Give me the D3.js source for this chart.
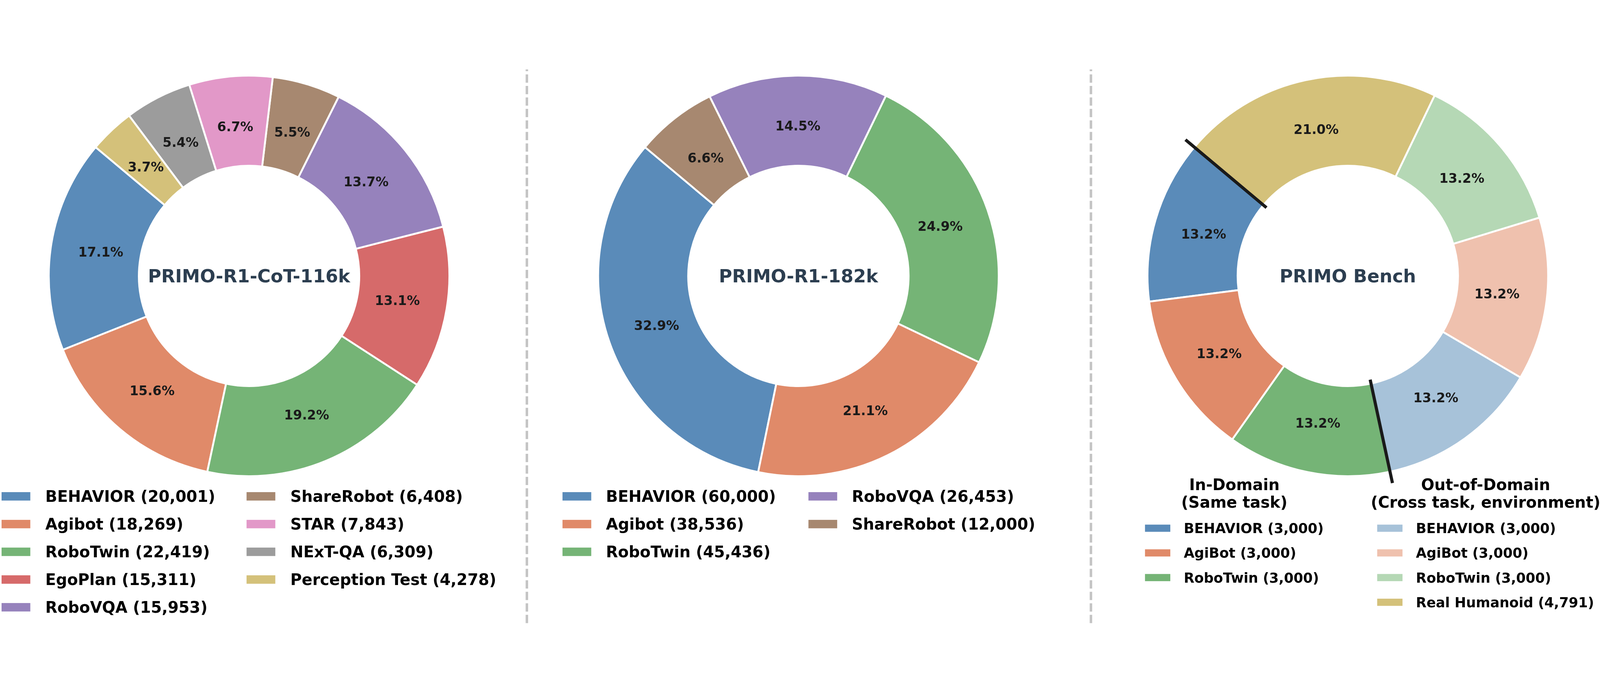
<!DOCTYPE html>
<html><head><meta charset="utf-8">
<script src="https://cdn.jsdelivr.net/npm/d3@7"></script>
<style>
html,body{margin:0;padding:0;background:#fff;overflow:hidden}
svg{display:block;position:fixed;left:0;top:0;width:100vw;height:100vh}
text{font-family:"DejaVu Sans",sans-serif;font-weight:bold}
</style>
</head><body>
<svg id="c" viewBox="0 0 5120 1777" preserveAspectRatio="xMidYMid meet"></svg>
<script>
// ---------- data ----------
const cotTitle = "PRIMO-R1-CoT-116k";
const cotLabels = ["BEHAVIOR","Agibot","RoboTwin","EgoPlan","RoboVQA","ShareRobot","STAR","NExT-QA","Perception Test"];
const cotValues = [20001,18269,22419,15311,15953,6408,7843,6309,4278];
const cotColors = ["#5A8BB9","#E08A69","#75B476","#D66A6A","#9682BC","#A78870","#E298C8","#9C9C9C","#D4C17A"];

const r1Title = "PRIMO-R1-182k";
const r1Labels = ["BEHAVIOR","Agibot","RoboTwin","RoboVQA","ShareRobot"];
const r1Values = [60000,38536,45436,26453,12000];
const r1Colors = ["#5A8BB9","#E08A69","#75B476","#9682BC","#A78870"];

const benchTitle = "PRIMO Bench";
const benchLabels = ["BEHAVIOR","AgiBot","RoboTwin","BEHAVIOR","AgiBot","RoboTwin","Real Humanoid"];
const benchValues = [3000,3000,3000,3000,3000,3000,4791];
const benchColors = ["#5A8BB9","#E08A69","#75B476","#A7C2D9","#EFC1AE","#B5D8B5","#D4C17A"];
const benchGroupTitles = [["In-Domain","(Same task)"],["Out-of-Domain","(Cross task, environment)"]];
const benchGroupSplit = 3; // first 3 in-domain

// ---------- layout ----------
const svg = d3.select("#c");
const W = 5120, H = 1777;
const R = 641, R0 = 0.55 * R, CY = 661;
const centers = [797, 2555, 4313];
const fmt = d3.format(",");

function donut(cx, values, colors, title) {
  const g = svg.append("g").attr("transform", `translate(${cx},${CY})`);
  const pie = d3.pie().sort(null).value(d => d)
    .startAngle(-50 * Math.PI / 180).endAngle(-410 * Math.PI / 180);
  const arcs = pie(values);
  const arc = d3.arc().innerRadius(R0).outerRadius(R);
  const lab = d3.arc().innerRadius(0.75 * R).outerRadius(0.75 * R);
  const total = d3.sum(values);
  g.selectAll("path.w").data(arcs).join("path").attr("class", "w")
    .attr("d", arc).attr("fill", (d, i) => colors[i])
    .attr("stroke", "#fff").attr("stroke-width", 6).attr("stroke-linejoin", "miter");
  g.selectAll("text.p").data(arcs).join("text").attr("class", "p")
    .attr("x", d => lab.centroid(d)[0])
    .attr("y", d => lab.centroid(d)[1] + 0.36 * 41.6)
    .attr("text-anchor", "middle").attr("font-size", 41.6).attr("fill", "#1a1a1a")
    .text(d => (d.value / total * 100).toFixed(1) + "%");
  g.append("text").attr("x", 0).attr("y", 0.36 * 58).attr("text-anchor", "middle")
    .attr("font-size", 58).attr("fill", "#2C3E50").text(title);
  return {g, arcs};
}

function legendCol(labels, values, colors, idx, x0, y0, dy, sw, sh, tdx, fs) {
  const g = svg.append("g");
  idx.forEach((k, j) => {
    const y = y0 + j * dy;
    g.append("rect").attr("x", x0).attr("y", y - sh / 2).attr("width", sw).attr("height", sh)
      .attr("fill", colors[k]);
    g.append("text").attr("x", x0 + tdx).attr("y", y + 0.36 * fs)
      .attr("font-size", fs).attr("fill", "#000")
      .text(`${labels[k]} (${fmt(values[k])})`);
  });
  return g;
}

// separators
[1686, 3491].forEach(x => {
  svg.append("line").attr("x1", x).attr("x2", x).attr("y1", 0).attr("y2", H)
    .attr("stroke", "#C4C4C4").attr("stroke-width", 8)
    .attr("stroke-dasharray", "26.5,10.3").attr("stroke-dashoffset", 20.8);
});

// donuts
donut(centers[0], cotValues, cotColors, cotTitle);
donut(centers[1], r1Values, r1Colors, r1Title);
const bench = donut(centers[2], benchValues, benchColors, benchTitle);

// black divider lines in bench donut
[bench.arcs[0].startAngle, bench.arcs[benchGroupSplit].startAngle].forEach(a => {
  const r1 = 0.53 * R, r2 = 1.058 * R;
  bench.g.append("line")
    .attr("x1", r1 * Math.sin(a)).attr("y1", -r1 * Math.cos(a))
    .attr("x2", r2 * Math.sin(a)).attr("y2", -r2 * Math.cos(a))
    .attr("stroke", "#1a1a1a").attr("stroke-width", 10);
});

// legends
const rowL = 88.75;
legendCol(cotLabels, cotValues, cotColors, [0,1,2,3,4], 5, 1366.5, rowL, 92, 27, 140, 50);
legendCol(cotLabels, cotValues, cotColors, [5,6,7,8], 789, 1366.5, rowL, 92, 27, 140, 50);
legendCol(r1Labels, r1Values, r1Colors, [0,1,2], 1800, 1366.5, rowL, 92, 27, 139, 50);
legendCol(r1Labels, r1Values, r1Colors, [3,4], 2587, 1366.5, rowL, 92, 27, 139, 50);

const bcols = [
  {idx: [0,1,2], x: 3664},
  {idx: [3,4,5,6], x: 4407}
];
bcols.forEach((c, ci) => {
  const g = legendCol(benchLabels, benchValues, benchColors, c.idx, c.x, 1468.5, 79, 81, 23, 124, 44);
  const bb = g.node().getBBox();
  const mid = bb.x + bb.width / 2;
  benchGroupTitles[ci].forEach((t, li) => {
    svg.append("text").attr("x", mid).attr("y", 1347 + li * 56)
      .attr("text-anchor", "middle").attr("font-size", 50).attr("fill", "#000").text(t);
  });
});
</script>
</body></html>
